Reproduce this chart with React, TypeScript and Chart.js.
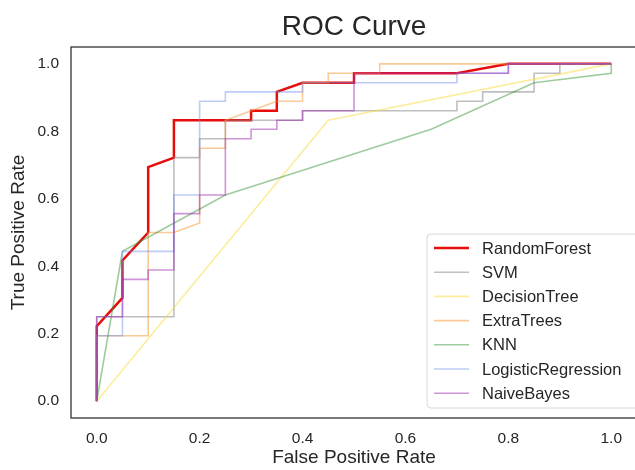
import React, { useEffect, useRef } from "react";
import { Chart, registerables } from "chart.js";

Chart.register(...registerables);

const modelNames = [
  "RandomForest",
  "SVM",
  "DecisionTree",
  "ExtraTrees",
  "KNN",
  "LogisticRegression",
  "NaiveBayes",
];

const rfFpr = [0, 0, 0.05, 0.05, 0.1, 0.1, 0.15, 0.15, 0.3, 0.3, 0.35, 0.35, 0.4, 0.5, 0.5, 0.7, 0.8, 1];
const rfTpr = [0, 0.222, 0.306, 0.417, 0.5, 0.694, 0.722, 0.833, 0.833, 0.861, 0.861, 0.917, 0.944, 0.944, 0.972, 0.972, 1, 1];

const svmFpr = [0, 0, 0.15, 0.15, 0.2, 0.2, 0.25, 0.25, 0.4, 0.4, 0.7, 0.7, 0.75, 0.75, 0.85, 0.85, 0.9, 0.9, 1];
const svmTpr = [0, 0.25, 0.25, 0.722, 0.722, 0.778, 0.778, 0.833, 0.833, 0.861, 0.861, 0.889, 0.889, 0.917, 0.917, 0.972, 0.972, 1, 1];

const dtFpr = [0, 0.45, 1];
const dtTpr = [0, 0.833, 1];

const etFpr = [0, 0, 0.1, 0.1, 0.15, 0.2, 0.2, 0.25, 0.25, 0.35, 0.4, 0.4, 0.45, 0.45, 0.55, 0.55, 1];
const etTpr = [0, 0.194, 0.194, 0.5, 0.5, 0.528, 0.75, 0.75, 0.833, 0.889, 0.889, 0.944, 0.944, 0.972, 0.972, 1, 1];

const knnFpr = [0, 0.05, 0.25, 0.65, 0.85, 1, 1];
const knnTpr = [0, 0.444, 0.611, 0.806, 0.944, 0.972, 1];

const lrFpr = [0, 0, 0.05, 0.05, 0.15, 0.15, 0.2, 0.2, 0.25, 0.25, 0.4, 0.4, 0.7, 0.7, 0.8, 0.8, 1];
const lrTpr = [0, 0.194, 0.194, 0.444, 0.444, 0.611, 0.611, 0.889, 0.889, 0.917, 0.917, 0.944, 0.944, 0.972, 0.972, 1, 1];

const nbFpr = [0, 0, 0.05, 0.05, 0.1, 0.1, 0.15, 0.15, 0.2, 0.2, 0.25, 0.25, 0.3, 0.3, 0.35, 0.35, 0.4, 0.4, 0.5, 0.5, 0.8, 0.8, 1];
const nbTpr = [0, 0.25, 0.25, 0.361, 0.361, 0.389, 0.389, 0.556, 0.556, 0.611, 0.611, 0.778, 0.778, 0.806, 0.806, 0.833, 0.833, 0.861, 0.861, 0.972, 0.972, 1, 1];

const xTicks = [0, 0.2, 0.4, 0.6, 0.8, 1.0];
const yTicks = [0, 0.2, 0.4, 0.6, 0.8, 1.0];

const curves = [
  [rfFpr, rfTpr],
  [svmFpr, svmTpr],
  [dtFpr, dtTpr],
  [etFpr, etTpr],
  [knnFpr, knnTpr],
  [lrFpr, lrTpr],
  [nbFpr, nbTpr],
];

const lineColors = [
  "rgba(230,0,0,0.95)",
  "rgba(128,128,128,0.5)",
  "rgba(250,220,60,0.5)",
  "rgba(245,150,50,0.5)",
  "rgba(40,140,40,0.45)",
  "rgba(110,140,235,0.45)",
  "rgba(160,40,180,0.5)",
];
const lineWidths = [2.5, 1.6, 1.6, 1.6, 1.6, 1.6, 1.6];

const FONT = "'Liberation Sans', Arial, sans-serif";
const TEXT = "#262626";

const decorPlugin = {
  id: "decor",
  afterDatasetsDraw(chart: any) {
    const { ctx, chartArea } = chart;
    ctx.save();
    ctx.strokeStyle = "#333333";
    ctx.lineWidth = 1.3;
    ctx.strokeRect(chartArea.left, chartArea.top, chartArea.right - chartArea.left, chartArea.bottom - chartArea.top);
    ctx.restore();
  },
  afterDraw(chart: any) {
    const { ctx, chartArea } = chart;
    ctx.save();
    // title
    ctx.fillStyle = TEXT;
    ctx.font = `28px ${FONT}`;
    ctx.textAlign = "center";
    ctx.textBaseline = "middle";
    ctx.fillText("ROC Curve", (chartArea.left + chartArea.right) / 2, 27);

    // legend
    const bx = 427, by = 234, bw = 215, bh = 174, r = 4;
    ctx.beginPath();
    ctx.moveTo(bx + r, by);
    ctx.lineTo(bx + bw - r, by);
    ctx.arcTo(bx + bw, by, bx + bw, by + r, r);
    ctx.lineTo(bx + bw, by + bh - r);
    ctx.arcTo(bx + bw, by + bh, bx + bw - r, by + bh, r);
    ctx.lineTo(bx + r, by + bh);
    ctx.arcTo(bx, by + bh, bx, by + bh - r, r);
    ctx.lineTo(bx, by + r);
    ctx.arcTo(bx, by, bx + r, by, r);
    ctx.closePath();
    ctx.fillStyle = "rgba(255,255,255,0.85)";
    ctx.fill();
    ctx.strokeStyle = "#d6d6d6";
    ctx.lineWidth = 1;
    ctx.stroke();

    ctx.font = `16.5px ${FONT}`;
    ctx.textAlign = "left";
    ctx.textBaseline = "middle";
    chart.data.datasets.forEach((ds: any, i: number) => {
      const y = 248 + i * 24.2;
      ctx.beginPath();
      ctx.strokeStyle = ds.borderColor;
      ctx.lineWidth = ds.borderWidth;
      ctx.moveTo(434, y);
      ctx.lineTo(469, y);
      ctx.stroke();
      ctx.fillStyle = TEXT;
      ctx.fillText(ds.label, 482, y + 1);
    });
    ctx.restore();
  },
};

export default function App() {
  const ref = useRef<HTMLCanvasElement>(null);
  useEffect(() => {
    const datasets = curves.map(([fx, ty], i) => ({
      label: modelNames[i],
      data: fx.map((x, j) => ({ x, y: ty[j] })),
      showLine: true,
      borderColor: lineColors[i],
      backgroundColor: lineColors[i],
      borderWidth: lineWidths[i],
      pointRadius: 0,
      fill: false,
      tension: 0,
      order: curves.length - i,
    }));
    const tickFont = { family: FONT, size: 15.5 };
    const chart = new Chart(ref.current as HTMLCanvasElement, {
      type: "scatter",
      data: { datasets },
      plugins: [decorPlugin],
      options: {
        responsive: false,
        animation: false,
        layout: { padding: { top: 47, left: 0, right: 0, bottom: 0 } },
        plugins: {
          legend: { display: false },
          title: { display: false },
          tooltip: { enabled: false },
        },
        scales: {
          x: {
            type: "linear",
            min: -0.05,
            max: 1.05,
            grid: { display: false, drawTicks: false },
            border: { display: false },
            ticks: {
              padding: 11,
              color: TEXT,
              font: tickFont,
              callback: (v: any) => Number(v).toFixed(1),
            },
            afterBuildTicks: (axis: any) => {
              axis.ticks = xTicks.map((v) => ({ value: v }));
            },
            afterFit: (s: any) => {
              s.height = 52;
            },
            title: {
              display: true,
              text: "False Positive Rate",
              color: TEXT,
              font: { family: FONT, size: 19 },
              padding: { top: 0, bottom: 1 },
            },
          },
          y: {
            type: "linear",
            min: -0.05,
            max: 1.05,
            grid: { display: false, drawTicks: false },
            border: { display: false },
            ticks: {
              padding: 12,
              color: TEXT,
              font: tickFont,
              callback: (v: any) => Number(v).toFixed(1),
            },
            afterBuildTicks: (axis: any) => {
              axis.ticks = yTicks.map((v) => ({ value: v }));
            },
            afterFit: (s: any) => {
              s.width = 71;
            },
            title: {
              display: true,
              text: "True Positive Rate",
              color: TEXT,
              font: { family: FONT, size: 19 },
              padding: { top: 7, bottom: 0 },
            },
          },
        },
      } as any,
    });
    return () => chart.destroy();
  }, []);
  return (
    <div
      style={{
        position: "absolute",
        left: 0,
        top: 0,
        width: 635,
        height: 470,
        overflow: "hidden",
        background: "#ffffff",
      }}
    >
      <canvas ref={ref} width={637} height={470} style={{ display: "block" }} />
    </div>
  );
}
